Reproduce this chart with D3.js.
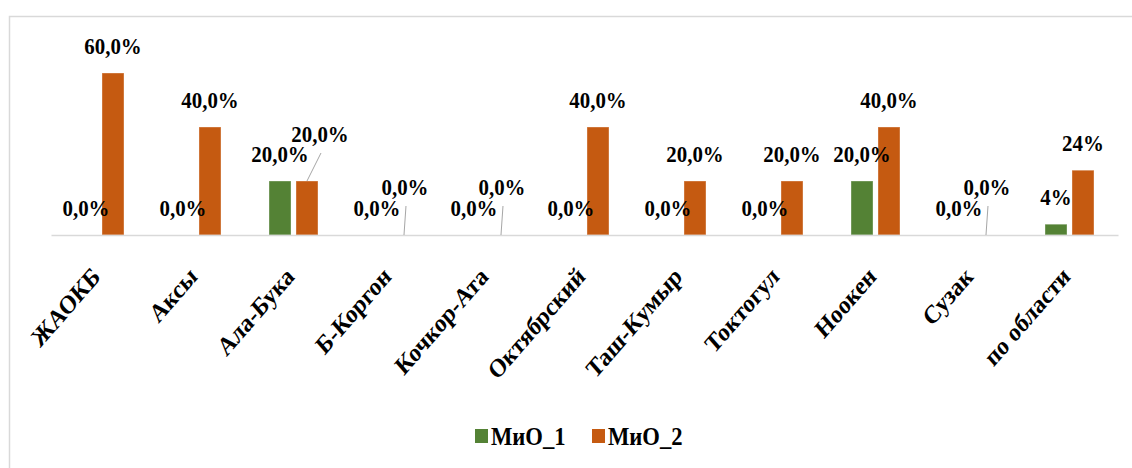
<!DOCTYPE html>
<html><head><meta charset="utf-8">
<script src="https://cdn.jsdelivr.net/npm/d3@7"></script>
<style>
html,body{margin:0;padding:0;background:#fff;}
svg{display:block;}
svg text{font-family:"Liberation Serif","Times New Roman",serif;font-weight:bold;fill:#000;}
</style></head><body>
<svg id="chart" width="1132" height="468"></svg>
<script>
const categories=["ЖАОКБ","Аксы","Ала-Бука","Б-Коргон","Кочкор-Ата","Октябрский","Таш-Кумыр","Токтогул","Ноокен","Сузак","по области"];
const series=["МиО_1","МиО_2"];
const mio1=[0,0,20,0,0,0,0,0,20,0,4];
const mio2=[60,40,20,0,0,40,20,20,40,0,24];
const colors=["#548235","#c55a11"];
// labels Excel pushed aside because they collided (drawn with a leader line)
const moved={"МиО_2":{"Ала-Бука":[13,-20],"Б-Коргон":[1,-21],"Кочкор-Ата":[1,-21],"Сузак":[1,-21]}};

const values=[mio1,mio2];
const squeeze=0.87; // the source picture is a bit narrower than tall
const fmt=(v,i)=>(i===categories.length-1?v.toFixed(0):v.toFixed(1)).replace(".",",")+"%";

const svg=d3.select("#chart");
svg.append("rect").attr("x",9.5).attr("y",16.5).attr("width",1140).attr("height",470)
  .attr("fill","none").attr("stroke","#d9d9d9").attr("stroke-width",1.5);

const x0=d3.scaleBand().domain(categories).range([51,1118]);
const x1=d3.scaleBand().domain(series).range([0,x0.bandwidth()]).paddingInner(0.185).paddingOuter(0.89);
const y=d3.scaleLinear().domain([0,60]).range([235,73]);

const rows=[];
series.forEach((s,si)=>categories.forEach((c,ci)=>rows.push({s,si,c,ci,v:values[si][ci]})));

svg.append("g").selectAll("rect").data(rows.filter(d=>d.v>0)).join("rect")
  .attr("x",d=>x0(d.c)+x1(d.s)).attr("width",x1.bandwidth())
  .attr("y",d=>y(d.v)).attr("height",d=>y(0)-y(d.v))
  .attr("fill",d=>colors[d.si]).attr("stroke","#fff").attr("stroke-opacity",0.35);

// baseline + rotated category labels
const axis=svg.append("g").attr("transform",`translate(0,${y(0)})`)
  .call(d3.axisBottom(x0).tickSize(0));
axis.attr("font-family",null).attr("font-size",null);
axis.select(".domain").attr("stroke","#d9d9d9").attr("stroke-width",1.5);
axis.selectAll("text").attr("x",0).attr("y",0).attr("dy",null).attr("fill",null)
  .attr("text-anchor","end").attr("transform",`translate(2,43) scale(${squeeze},1) rotate(-45)`)
  .style("font-size","26px");

// data labels
const lab=rows.map(d=>{
  const nd=(moved[d.s]||{})[d.c];
  const bx=x0(d.c)+x1(d.s)+x1.bandwidth()/2;
  return Object.assign({},d,{bx,lx:bx+(nd?nd[0]:0),ly:y(d.v)-19+(nd?nd[1]:0),nd:!!nd});
});
svg.append("g").selectAll("line").data(lab.filter(d=>d.nd)).join("line")
  .attr("x1",d=>d.bx).attr("y1",d=>y(d.v)).attr("x2",d=>d.lx+1).attr("y2",d=>d.ly+11)
  .attr("stroke","#a6a6a6").attr("stroke-width",1);
svg.append("g").selectAll("text").data(lab).join("text")
  .attr("transform",d=>`translate(${d.lx},${d.ly}) scale(${squeeze},1)`)
  .attr("text-anchor","middle").style("font-size","24px").text(d=>fmt(d.v,d.ci));

// legend
const leg=svg.append("g").selectAll("g").data(series).join("g")
  .attr("transform",(d,i)=>`translate(${475+i*117},429)`);
leg.append("rect").attr("width",13).attr("height",14).attr("fill",(d,i)=>colors[i]);
leg.append("text").attr("transform",`translate(16,16) scale(${squeeze},1)`)
  .style("font-size","26px").text(d=>d);
</script>
</body></html>
